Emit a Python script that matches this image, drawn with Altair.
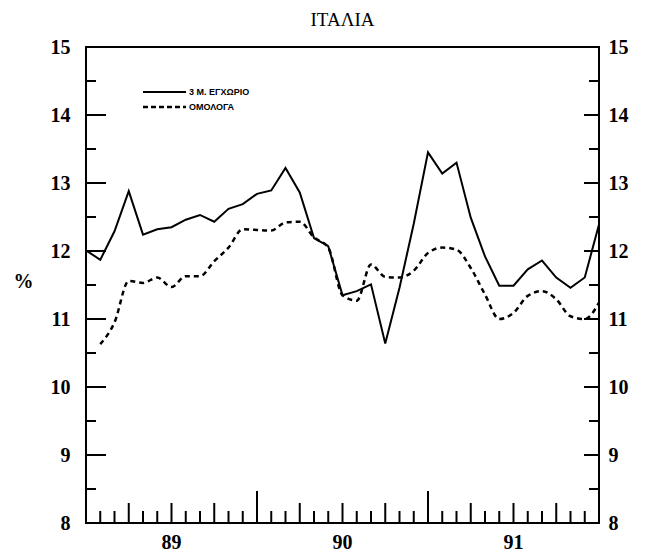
import altair as alt
import pandas as pd

# ---------------- data ----------------
months = list(range(37))  # monthly points, Jan 1989 .. Jan 1992
deposit_3m = [12.01, 11.87, 12.29, 12.88, 12.24, 12.32, 12.35, 12.46, 12.53, 12.43,
              12.62, 12.69, 12.84, 12.89, 13.22, 12.86, 12.19, 12.07, 11.35, 11.41,
              11.51, 10.64, 11.46, 12.40, 13.45, 13.14, 13.30, 12.49, 11.92, 11.49,
              11.49, 11.73, 11.86, 11.61, 11.46, 11.61, 12.39]
bonds = [None, 10.63, 10.95, 11.56, 11.53, 11.61, 11.47, 11.63, 11.63, 11.85,
         12.05, 12.32, 12.31, 12.30, 12.42, 12.43, 12.20, 12.05, 11.35, 11.27,
         11.80, 11.62, 11.61, 11.71, 11.97, 12.05, 12.02, 11.75, 11.36, 11.00,
         11.09, 11.34, 11.41, 11.29, 11.04, 11.00, 11.24]
series_names = ["3 Μ. ΕΓΧΩΡΙΟ", "ΟΜΟΛΟΓΑ"]
title_text = "ΙΤΑΛΙΑ"
y_title = "%"
year_labels = ["89", "90", "91"]
year_centers = [6, 18, 30]
y_label_values = [8, 9, 10, 11, 12, 13, 14, 15]
y_ticks_major = [9, 10, 11, 12, 13, 14]
y_ticks_minor = [8.5, 9.5, 10.5, 11.5, 12.5, 13.5, 14.5]
month_ticks = [m for m in range(1, 36) if m % 3 != 0]
quarter_ticks = [m for m in range(3, 36, 3) if m % 12 != 0]
year_ticks = [12, 24]

# ---------------- layout / style ----------------
W, H = 513, 476
X_MAX = 36
PX = W / X_MAX
FONT = "Liberation Serif"
LFS = 20

df_solid = pd.DataFrame({"month": months, "value": deposit_3m})
df_dash = pd.DataFrame({"month": months, "value": bonds}).dropna()

xs = alt.Scale(domain=[0, X_MAX], nice=False, zero=False)
ys = alt.Scale(domain=[8, 15], nice=False, zero=False)

common_lab = dict(labelFont=FONT, labelFontSize=LFS, labelFontWeight="bold",
                  labelColor="black")

y_axis_left = alt.Axis(orient="left", values=y_label_values, ticks=False, domain=False,
                       grid=False, labelPadding=16, **common_lab,
                       title=y_title, titleAngle=0, titleX=-63, titleY=234,
                       titleAlign="center", titleBaseline="middle", titleFont=FONT,
                       titleFontSize=LFS, titleFontWeight="bold", titleColor="black")
y_axis_right = alt.Axis(orient="right", values=y_label_values, ticks=False, domain=False,
                        grid=False, labelPadding=9, title="", **common_lab)

solid = alt.Chart(df_solid).mark_line(color="black", strokeWidth=2).encode(
    x=alt.X("month:Q", scale=xs, axis=None),
    y=alt.Y("value:Q", scale=ys, axis=y_axis_left),
)
dashed = alt.Chart(df_dash).mark_line(color="black", strokeWidth=2.5, strokeDash=[5, 4],
                                      interpolate="monotone").encode(
    x=alt.X("month:Q", scale=xs, axis=None),
    y=alt.Y("value:Q", scale=ys, axis=y_axis_right),
)


def hticks(values, length, right=False):
    # short inward ticks on the side frames: each tick is a two-point line
    # segment drawn through both scales
    if right:
        a, b = X_MAX - length / PX, X_MAX
    else:
        a, b = 0.0, length / PX
    rows = []
    for i, v in enumerate(values):
        rows.append({"id": i, "xx": a, "yy": v})
        rows.append({"id": i, "xx": b, "yy": v})
    return alt.Chart(pd.DataFrame(rows)).mark_line(color="black", strokeWidth=2).encode(
        x=alt.X("xx:Q", scale=xs, axis=None),
        y=alt.Y("yy:Q", scale=ys, axis=None),
        detail="id:N")


def vticks(values, length):
    return alt.Chart(pd.DataFrame({"t": values})).mark_rule(color="black", strokeWidth=2).encode(
        x=alt.X("t:Q", scale=xs, axis=None), y=alt.value(H), y2=alt.value(H - length))


left_major = hticks(y_ticks_major, 20)
left_minor = hticks(y_ticks_minor, 10)
right_major = hticks(y_ticks_major, 15, right=True)
right_minor = hticks(y_ticks_minor, 10, right=True)
b_month = vticks(month_ticks, 12)
b_quarter = vticks(quarter_ticks, 20)
b_year = vticks(year_ticks, 32)

# year labels below the axis, placed through the x scale
year_df = pd.DataFrame({"c": year_centers, "label": year_labels})
x_labels = alt.Chart(year_df).mark_text(font=FONT, fontSize=LFS, fontWeight="bold",
                                        color="black", baseline="top", align="center").encode(
    x=alt.X("c:Q", scale=xs, axis=None), y=alt.value(H + 10), text="label:N")

leg_df = pd.DataFrame({"name": [series_names[0]]})
leg_df2 = pd.DataFrame({"name": [series_names[1]]})
leg_solid = alt.Chart(leg_df).mark_rule(color="black", strokeWidth=2).encode(
    x=alt.value(57), x2=alt.value(100), y=alt.value(45), y2=alt.value(45))
leg_dash = alt.Chart(leg_df2).mark_rule(color="black", strokeWidth=2.5, strokeDash=[5, 3]).encode(
    x=alt.value(57), x2=alt.value(100), y=alt.value(60), y2=alt.value(60))
leg_t1 = alt.Chart(leg_df).mark_text(align="left", baseline="middle", font="Liberation Sans",
                                     fontSize=9, fontWeight="bold", color="black").encode(
    x=alt.value(103), y=alt.value(45), text="name:N")
leg_t2 = alt.Chart(leg_df2).mark_text(align="left", baseline="middle", font="Liberation Sans",
                                      fontSize=9, fontWeight="bold", color="black").encode(
    x=alt.value(103), y=alt.value(60), text="name:N")

chart = alt.layer(
    solid, dashed, left_major, left_minor, right_major, right_minor,
    b_month, b_quarter, b_year, x_labels, leg_solid, leg_dash, leg_t1, leg_t2
).resolve_axis(y="independent").properties(
    width=W, height=H,
    title=alt.TitleParams(title_text, font=FONT, fontSize=19, fontWeight="normal",
                          color="black", anchor="middle", offset=7),
    padding={"left": 5, "top": 3, "right": 5, "bottom": 5},
).configure_view(stroke="black", strokeWidth=2)

chart.save("out.html", embed_options={"renderer": "svg", "actions": False})
